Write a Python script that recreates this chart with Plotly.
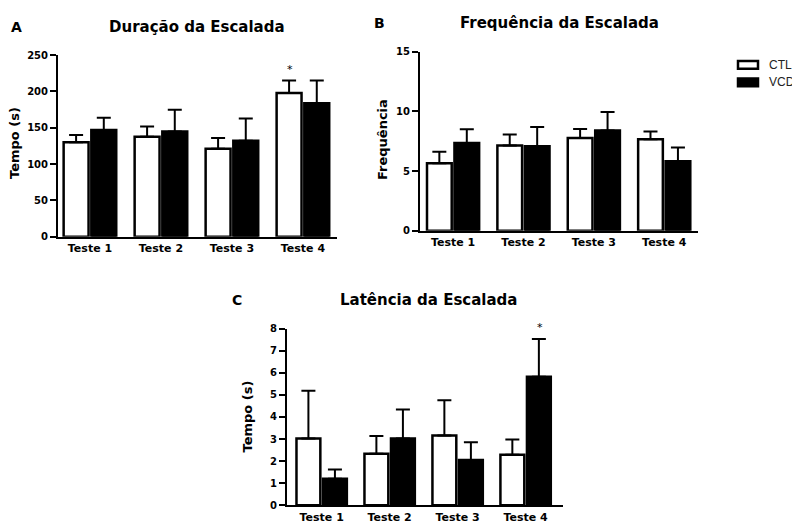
import plotly.graph_objects as go

tests = ["Teste 1", "Teste 2", "Teste 3", "Teste 4"]
xpos = [0, 1, 2, 3]

# Panel A - Duração da Escalada (s)
dur_ctl = [130, 137.5, 121, 197.6]
dur_ctl_sem = [10, 14, 15, 17.4]
dur_vcd = [147, 144.7, 132, 183.7]
dur_vcd_sem = [16.6, 30, 30.6, 31.3]

# Panel B - Frequência da Escalada
freq_ctl = [5.67, 7.14, 7.77, 7.67]
freq_ctl_sem = [0.96, 0.94, 0.77, 0.65]
freq_vcd = [7.36, 7.09, 8.40, 5.84]
freq_vcd_sem = [1.15, 1.61, 1.56, 1.14]

# Panel C - Latência da Escalada (s)
lat_ctl = [3.03, 2.33, 3.16, 2.29]
lat_ctl_sem = [2.15, 0.81, 1.59, 0.69]
lat_vcd = [1.20, 3.03, 2.05, 5.82]
lat_vcd_sem = [0.42, 1.31, 0.80, 1.71]

groups = ["CTL", "VCD"]

# the page body has an 8px margin, so the figure is 8px smaller than the window
OFF = 8
W, H = 800 - OFF, 526 - OFF
FONT = "DejaVu Sans, Liberation Sans, sans-serif"
LFONT = "Liberation Sans, Arial, sans-serif"

def px(x):
    return (x - OFF) / W

def py(y):
    return 1 - (y - OFF) / H

fig = go.Figure()

panels = [
    ("x", "y", dur_ctl, dur_ctl_sem, dur_vcd, dur_vcd_sem),
    ("x2", "y2", freq_ctl, freq_ctl_sem, freq_vcd, freq_vcd_sem),
    ("x3", "y3", lat_ctl, lat_ctl_sem, lat_vcd, lat_vcd_sem),
]

for xa, ya, c, cs, v, vs in panels:
    fig.add_trace(go.Bar(
        x=xpos, y=c, name=groups[0], xaxis=xa, yaxis=ya, showlegend=False,
        marker=dict(color="white", line=dict(color="black", width=2.5)),
        error_y=dict(type="data", symmetric=False, array=cs, arrayminus=[0] * 4,
                     color="black", thickness=2, width=7),
    ))
    fig.add_trace(go.Bar(
        x=xpos, y=v, name=groups[1], xaxis=xa, yaxis=ya, showlegend=False,
        marker=dict(color="black", line=dict(color="black", width=2.5)),
        error_y=dict(type="data", symmetric=False, array=vs, arrayminus=[0] * 4,
                     color="black", thickness=2, width=7),
    ))

ytickfont = dict(family=FONT, size=10, color="black", weight="bold")
xtickfont = dict(family=FONT, size=11, color="black", weight="bold")

def yax(domain_y, rng, dtick, anchor):
    return dict(domain=domain_y, range=rng, dtick=dtick, anchor=anchor,
                showline=True, linecolor="black", linewidth=2,
                ticks="outside", ticklen=6, tickwidth=2, tickcolor="black",
                showgrid=False, zeroline=False, tickfont=ytickfont, fixedrange=True)

def xax(domain_x, rng, anchor):
    return dict(domain=domain_x, range=rng, anchor=anchor,
                tickvals=xpos, ticktext=tests,
                showline=True, linecolor="black", linewidth=2,
                ticks="", showgrid=False, zeroline=False, tickfont=xtickfont,
                fixedrange=True)

fig.update_layout(
    width=W, height=H,
    margin=dict(l=0, r=0, t=0, b=0),
    paper_bgcolor="white", plot_bgcolor="white",
    barmode="group", bargap=0.22, bargroupgap=0.1,
    xaxis=xax([px(58), px(337)], [-0.45, 3.48], "y"),
    yaxis=yax([py(236), py(50)], [0, 250], 50, "x"),
    xaxis2=xax([px(420), px(698)], [-0.47, 3.48], "y2"),
    yaxis2=yax([py(230), py(46.7)], [0, 15], 5, "x2"),
    xaxis3=xax([px(287), px(563)], [-0.51, 3.55], "y3"),
    yaxis3=yax([py(511), py(330)], [0, 8], 1, "x3"),
    showlegend=False,
)

title_font = dict(family=FONT, size=15, color="black", weight="bold")
letter_font = dict(family=FONT, size=14, color="black", weight="bold")
annots = [
    ("A", 16, 21, letter_font),
    ("Duração da Escalada", 197, 21, title_font),
    ("B", 379, 17, letter_font),
    ("Frequência da Escalada", 559, 17, title_font),
    ("C", 237, 301, letter_font),
    ("Latência da Escalada", 428, 301, title_font),
]
for t, x, y, f in annots:
    fig.add_annotation(text=t, x=px(x), y=py(y), xref="paper", yref="paper",
                       showarrow=False, font=f, xanchor="center", yanchor="middle")

ytitle_font = dict(family=FONT, size=13, color="black", weight="bold")
for t, x, y in [("Tempo (s)", 15, 140), ("Frequência", 382, 137), ("Tempo (s)", 247, 420)]:
    fig.add_annotation(text=t, x=px(x), y=py(y), xref="paper", yref="paper",
                       showarrow=False, textangle=-90, font=ytitle_font,
                       xanchor="center", yanchor="middle")

star_font = dict(family=FONT, size=11, color="black")
fig.add_annotation(text="*", x=3, y=dur_ctl[3] + dur_ctl_sem[3], xref="x", yref="y",
                   xshift=-13, yshift=11, showarrow=False, font=star_font)
fig.add_annotation(text="*", x=3, y=lat_vcd[3] + lat_vcd_sem[3], xref="x3", yref="y3",
                   xshift=14, yshift=11, showarrow=False, font=star_font)

# legend (manual, to match rectangular swatches)
legend_items = [(groups[0], "white", 60), (groups[1], "black", 78)]
for name, fill, yc in legend_items:
    fig.add_shape(type="rect", xref="paper", yref="paper",
                  x0=px(738), x1=px(758), y0=py(yc - 4), y1=py(yc + 4),
                  fillcolor=fill, line=dict(color="black", width=2.5))
    fig.add_annotation(text=name, x=px(767), y=py(yc), xref="paper", yref="paper",
                       showarrow=False, xanchor="left", yanchor="middle",
                       font=dict(family=LFONT, size=12, color="#222"))

fig.write_html("out.html")
